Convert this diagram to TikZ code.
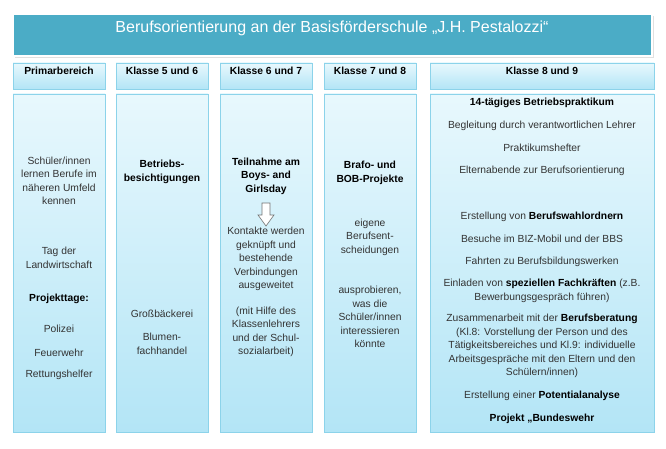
\documentclass[tikz,border=0pt]{standalone}
\usepackage{fontspec}
\setmainfont{Liberation Sans}
\definecolor{ttl}{HTML}{4BACC6}
\definecolor{bd}{HTML}{8CD3EA}
\definecolor{ftop}{HTML}{E8F8FD}
\definecolor{fbot}{HTML}{B3E5F6}
\begin{document}
\begin{tikzpicture}[x=1pt,y=-1pt,
 box/.style={draw=bd,line width=0.8pt,top color=ftop,bottom color=fbot},
 hd/.style={box,top color=ftop,bottom color=fbot},
 t/.style={font=\fontsize{10.3}{13.5}\selectfont,text=black!80,align=center,anchor=center},
 tb/.style={t,font=\fontsize{10.3}{13.5}\selectfont\bfseries,text=black}]
\useasboundingbox (0,0) rectangle (666,449);
\fill[black!12] (15,16) rectangle (654,58);
\draw[draw=white,line width=1.5pt,fill=ttl] (13,14) rectangle (652,56);
\node[text=white,font=\fontsize{16}{18}\selectfont] (title) at (332,28) {Berufsorientierung an der Basisförderschule „J.H. Pestalozzi“};
% headers
\foreach \a/\b/\n/\txt in {13/105/h1/Primarbereich,116/208/h2/Klasse 5 und 6,220/312/h3/Klasse 6 und 7,324/416/h4/Klasse 7 und 8,430/654/h5/Klasse 8 und 9}{
 \draw[hd] (\a,63) rectangle (\b,89);
 \node[tb] (\n) at ({(\a+\b)/2},71) {\txt};
 \draw[box] (\a,94) rectangle (\b,432);
}
% col1
\node[t] (a1) at (59,181) {Schüler/innen\\lernen Berufe im\\näheren Umfeld\\kennen};
\node[t] (a2) at (59,258) {Tag der\\Landwirtschaft};
\node[tb] (a3) at (59,299) {Projekttage:};
\node[t] (a4) at (59,329) {Polizei};
\node[t] (a5) at (59,353) {Feuerwehr};
\node[t] (a6) at (59,375) {Rettungshelfer};
% col2
\node[tb] (b1) at (162,172) {Betriebs-\\besichtigungen};
\node[t] (b2) at (162,314) {Großbäckerei};
\node[t] (b3) at (162,344) {Blumen-\\fachhandel};
% col3
\node[tb] (c1) at (266,176) {Teilnahme am\\Boys- and\\Girlsday};
\draw[draw=black!55,fill=white,line width=0.6pt] (262,203)--(270,203)--(270,215)--(274,215)--(266,226)--(258,215)--(262,215)--cycle;
\node[t] (c2) at (266,259) {Kontakte werden\\geknüpft und\\bestehende\\Verbindungen\\ausgeweitet};
\node[t] (c3) at (266,332) {(mit Hilfe des\\Klassenlehrers\\und der Schul-\\sozialarbeit)};
% col4
\node[tb] (d1) at (370,173) {Brafo- und\\BOB-Projekte};
\node[t] (d2) at (370,237) {eigene\\Berufsent-\\scheidungen};
\node[t] (d3) at (370,317) {ausprobieren,\\was die\\Schüler/innen\\interessieren\\könnte};
% col5
\node[tb] (e1) at (542,103) {14-tägiges Betriebspraktikum};
\node[t] (e2) at (542,126) {Begleitung durch verantwortlichen Lehrer};
\node[t] (e3) at (542,148) {Praktikumshefter};
\node[t] (e4) at (542,171) {Elternabende zur Berufsorientierung};
\node[t] (e5) at (542,217) {Erstellung von \textbf{\color{black}Berufswahlordnern}};
\node[t] (e6) at (542,239) {Besuche im BIZ-Mobil und der BBS};
\node[t] (e7) at (542,262) {Fahrten zu Berufsbildungswerken};
\node[t] (e8) at (542,291) {Einladen von \textbf{\color{black}speziellen Fachkräften} (z.B.\\Bewerbungsgespräch führen)};
\node[t] (e9) at (542,346) {Zusammenarbeit mit der \textbf{\color{black}Berufsberatung}\\(Kl.8: Vorstellung der Person und des\\Tätigkeitsbereiches und Kl.9: individuelle\\Arbeitsgespräche mit den Eltern und den\\Schülern/innen)};
\node[t] (e10) at (542,396) {Erstellung einer \textbf{\color{black}Potentialanalyse}};
\node[tb] (e11) at (542,419) {Projekt „Bundeswehr};
\end{tikzpicture}
\end{document}
